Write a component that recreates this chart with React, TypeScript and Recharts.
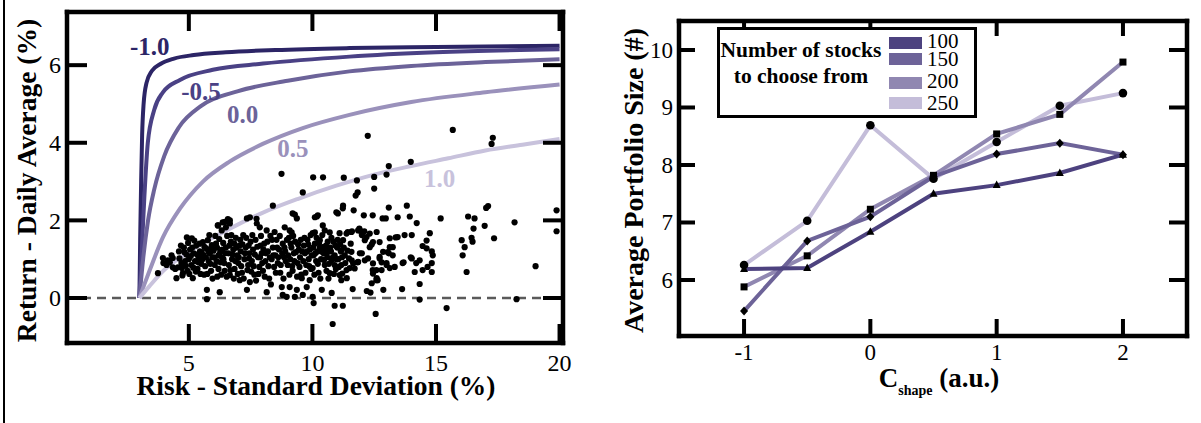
import React from 'react';
import { ComposedChart, Line, Scatter, XAxis, YAxis, ReferenceLine, ReferenceDot } from 'recharts';

const FONT = '"Liberation Serif", "Times New Roman", Times, serif';

type P = [number, number];

// ---- left panel: risk vs return ----
const riskTicks = [5, 10, 15, 20];
const returnTicks = [0, 2, 4, 6];

const frontierM10: P[] = [[3, 0], [3.03, 1.5], [3.07, 3], [3.11, 4.2], [3.17, 5.0], [3.29, 5.55], [3.5, 5.85], [3.85, 6.03], [4.4, 6.17], [5.2, 6.26], [6.5, 6.33], [8.5, 6.39], [11.5, 6.44], [15, 6.47], [20, 6.5]];
const frontierM05: P[] = [[3, 0], [3.1, 1.3], [3.2, 2.6], [3.34, 4.0], [3.6, 4.85], [3.95, 5.3], [4.64, 5.62], [5.97, 5.88], [8, 6.04], [11.5, 6.22], [15, 6.33], [20, 6.41]];
const frontier00: P[] = [[3, 0], [3.15, 1.0], [3.35, 2.0], [3.6, 2.8], [4.0, 3.65], [4.6, 4.4], [5.5, 4.95], [7, 5.33], [9, 5.6], [11.5, 5.84], [14, 5.98], [17, 6.08], [20, 6.15]];
const frontier05: P[] = [[3, 0], [3.2, 0.35], [3.42, 0.72], [3.95, 1.56], [4.64, 2.3], [5.57, 3.0], [6.66, 3.52], [7.99, 3.97], [9.61, 4.38], [11.5, 4.72], [14, 5.05], [17, 5.3], [20, 5.5]];
const frontier10: P[] = [[3, 0], [3.4, 0.3], [4, 0.72], [4.8, 1.1], [5.6, 1.42], [6.7, 1.8], [8, 2.2], [9.4, 2.55], [11, 2.9], [12.5, 3.18], [14, 3.4], [15.5, 3.6], [17, 3.8], [18.5, 3.95], [20, 4.1]];

const frontierNames = ['-1.0', '-0.5', '0.0', '0.5', '1.0'];
const frontierColors = ['#2c2566', '#4a4185', '#6c6399', '#9a91bb', '#c8c2dc'];
const frontierData = [frontierM10, frontierM05, frontier00, frontier05, frontier10];
const frontierLabelAt: P[] = [[3.42, 6.49], [5.49, 5.33], [7.18, 4.74], [9.21, 3.85], [15.15, 3.1]];

const stocks: P[] = [
  [3.75, 0.64], [3.95, 1.03], [3.97, 0.9], [4.1, 0.85], [4.15, 0.97], [4.23, 0.92], [4.3, 1.1], [4.35, 1.03], [4.35, 0.79], [4.45, 0.75], [4.5, 0.51], [4.56, 0.79], [4.6, 1.2], [4.7, 0.9], [4.72, 0.77], [4.76, 0.64],
  [4.8, 1.3], [4.85, 0.95], [4.9, 1.12], [4.92, 1.56], [4.95, 0.7], [5.0, 1.0], [5.05, 1.25], [5.1, 0.85], [5.12, 1.54], [5.16, 0.51], [5.2, 1.15], [5.25, 0.95], [5.3, 1.35], [5.35, 0.75], [5.4, 1.05], [5.45, 1.2], [5.5, 0.88],
  [5.57, 1.44], [5.6, 1.1], [5.62, 0.6], [5.7, 1.28], [5.73, 0.21], [5.73, -0.03], [5.77, 1.49], [5.8, 0.95], [5.85, 1.15], [5.9, 0.7], [5.93, 1.36], [5.95, 1.05], [6.0, 1.22], [6.05, 0.85], [6.1, 1.4], [6.15, 0.55], [6.17, 1.87], [6.2, 1.1], [6.25, 0.15], [6.28, 0.92], [6.33, 1.74], [6.35, 1.25], [6.37, 1.95], [6.4, 1.0], [6.45, 0.7], [6.5, 1.82], [6.5, 1.3], [6.19, 1.87], [6.46, 1.96], [6.66, 2.0],
  [6.58, 2.03], [6.6, 1.15], [6.62, 0.85], [6.66, 1.92], [6.66, 0.59], [6.7, 1.45], [6.75, 1.0], [6.8, 1.25], [6.85, 0.75], [6.9, 1.55], [6.95, 1.1], [7.0, 0.9], [7.06, 0.46], [7.05, 1.35], [7.1, 1.2], [7.15, 0.65], [7.2, 1.62], [7.25, 1.0], [7.3, 1.3], [7.35, 2.05], [7.35, 0.21], [7.4, 0.85], [7.45, 1.15], [7.47, 2.08], [7.47, 0.41], [7.5, 1.45], [7.74, 2.04],
  [7.55, 0.95], [7.6, 1.25], [7.65, 0.6], [7.7, 1.5], [7.75, 1.92], [7.8, 1.05], [7.85, 0.8], [7.87, 1.82], [7.9, 1.35], [7.95, 1.15], [8.0, 0.7], [8.05, 1.4], [8.1, 0.95], [8.15, 1.74], [8.15, 0.15], [8.2, 1.2], [8.25, 0.5], [8.3, 1.6], [8.35, 1.0], [8.4, 2.38], [8.4, 1.3], [8.45, 0.8], [8.5, 1.1],
  [8.55, 1.5], [8.6, 0.9], [8.65, 1.25], [8.7, 0.65], [8.75, 3.2], [8.76, 0.28], [8.8, 1.4], [8.8, 0.08], [8.85, 1.05], [8.88, 1.82], [8.9, 1.2], [8.96, 0.03], [9.0, 0.85], [9.05, 1.55], [9.08, 1.74], [9.08, 0.28], [9.1, 1.0], [9.15, 1.3], [9.16, 1.69], [9.2, 0.7], [9.2, 2.18], [9.25, 1.15], [9.29, 2.15], [9.29, 0.03], [9.3, 1.45], [9.37, 2.05], [9.37, 0.21], [9.4, 0.9], [9.45, 1.25],
  [9.5, 1.05], [9.55, 0.6], [9.57, 0.51], [9.61, 2.72], [9.61, 0.08], [9.65, 1.35], [9.7, 1.15], [9.75, 0.85], [9.77, 0.28], [9.8, 1.5], [9.85, 1.0], [9.89, 0.46], [9.9, 1.25], [9.95, 0.75], [10.01, 1.67], [10.01, 0.77], [10.01, 0.03], [10.03, 3.11], [10.05, -0.13], [10.05, 1.1], [10.1, 1.69], [10.1, 1.4], [10.1, 2.08], [10.15, 0.95], [10.18, 2.1], [10.2, 1.2], [10.25, 0.65], [10.3, 1.3], [10.3, 1.49], [10.35, 1.0], [10.38, 0.21], [10.42, 1.87], [10.42, 1.31], [10.43, 3.11], [10.45, 1.15], [10.5, 1.74],
  [10.5, 0.85], [10.55, 1.35], [10.58, 1.15], [10.6, 1.05], [10.65, 0.5], [10.7, 1.69], [10.7, 0.64], [10.75, 1.2], [10.78, 0.13], [10.78, 0.97], [10.82, -0.67], [10.85, 1.45], [10.9, -0.2], [10.9, 1.1], [10.9, 0.85], [10.95, 0.75], [10.97, 2.21], [11.0, 1.3], [11.05, 1.0], [11.1, 1.67], [11.1, 0.59], [11.15, 1.2],
  [11.24, 1.49], [11.38, 1.66], [11.58, 1.7], [11.85, 1.74], [12.05, 1.7], [12.19, 1.57], [12.45, 1.44], [11.17, 1.23], [11.31, 1.1], [11.58, 1.19], [11.92, 1.15], [12.25, 1.02], [11.17, 0.85], [11.38, 0.72], [11.65, 0.89], [11.85, 0.93], [12.12, 0.97], [12.45, 0.89], [12.59, 0.72], [12.72, 1.06], [12.86, 1.19], [11.21, 0.63], [11.71, 0.76], [12.45, 0.63], [12.59, 0.46], [11.17, 0.46], [11.23, -0.2], [11.24, 2.38], [11.27, 3.1], [11.43, 1.7], [11.51, 0.77], [11.39, 0.51], [11.59, 0.97], [11.83, 0.92], [12.0, 1.15], [11.92, 1.74], [12.12, 1.49], [12.32, 1.31], [12.32, 1.66], [12.6, 1.7], [12.72, 1.44], [12.72, 1.02], [12.8, 0.72], [12.6, 0.51], [12.4, 0.38], [12.44, 0.72],
  [13.13, 1.54], [13.45, 1.57], [13.73, 1.62], [14.02, 1.62], [13.25, 1.31], [13.05, 1.18], [13.0, 0.9], [13.33, 0.8], [13.69, 0.92], [14.02, 1.02], [14.34, 0.97], [14.46, 0.72], [14.83, 0.9], [14.62, 1.28], [14.14, 0.67],
  [12.24, 4.18], [15.68, 4.33], [17.3, 4.13], [17.25, 3.97], [11.8, 3.03], [12.5, 3.12], [13.0, 3.18], [13.09, 3.4], [13.98, 3.51], [11.75, 2.64], [11.83, 2.72], [12.5, 2.82], [11.23, 2.31], [11.67, 2.26], [12.08, 2.13], [12.44, 2.13], [13.09, 2.33], [13.82, 2.38], [12.97, 2.05], [13.45, 2.08], [13.94, 2.1], [14.22, 1.93], [15.19, 2.05], [16.3, 2.1], [16.56, 2.05], [17.03, 2.32], [17.11, 2.37], [16.52, 1.79], [16.97, 1.86], [18.18, 1.95], [19.88, 2.26], [19.88, 1.72],
  [17.35, 1.54], [16.04, 1.49], [16.44, 1.55], [16.48, 1.45], [16.16, 1.31], [16.08, 1.1], [16.24, 0.67], [19.03, 0.82], [18.26, -0.03], [15.43, -0.26], [14.34, -0.04], [14.34, 0.36], [14.83, 0.67], [14.66, 0.8], [14.87, 1.1], [14.83, 1.2], [14.75, 1.67], [14.62, 1.48], [14.46, 1.34], [14.2, 0.9], [13.98, 1.05], [13.65, 0.9], [13.63, 0.23], [12.87, 0.21], [12.56, -0.41], [12.35, 0.14], [12.2, 0.18], [11.63, 0.23], [12.64, 0.46], [13.13, 0.77], [13.0, 0.85], [12.8, 0.92], [13.09, 1.15], [13.25, 1.1], [13.13, 1.31], [13.37, 1.56], [12.4, 1.38], [12.84, 2.05], [11.9, 1.79], [12.1, 1.72], [12.0, 1.62], [11.6, 1.72], [10.22, 2.13], [11.03, 2.18],
  // the dense core of the cloud
  [4.62, 1.02], [4.68, 1.35], [4.74, 0.58], [4.82, 1.18], [4.88, 0.83], [4.97, 1.42], [5.02, 0.62], [5.08, 1.08], [5.14, 1.3], [5.18, 0.78], [5.22, 1.48], [5.28, 0.68], [5.33, 1.12], [5.38, 0.92], [5.43, 1.4], [5.47, 0.62], [5.52, 1.18], [5.55, 1.0],
  [5.63, 1.32], [5.66, 0.82], [5.69, 1.05], [5.75, 0.62], [5.79, 1.2], [5.83, 1.62], [5.87, 0.88], [5.91, 1.27], [5.96, 0.5], [6.02, 1.05], [6.07, 1.6], [6.12, 0.95], [6.14, 1.3], [6.2, 0.75], [6.23, 1.52], [6.27, 1.18], [6.31, 0.6], [6.34, 1.05], [6.39, 1.42], [6.43, 0.9], [6.48, 1.15], [6.53, 0.55], [6.55, 1.6],
  [6.64, 1.35], [6.68, 0.72], [6.72, 1.62], [6.77, 1.12], [6.82, 0.5], [6.84, 1.4], [6.88, 0.95], [6.93, 1.3], [6.98, 0.62], [7.02, 1.05], [7.08, 1.5], [7.12, 0.82], [7.17, 1.38], [7.22, 0.5], [7.27, 1.15], [7.32, 1.55], [7.37, 0.72], [7.42, 1.35], [7.44, 1.02], [7.52, 0.68], [7.57, 1.62],
  [7.62, 0.82], [7.67, 1.12], [7.72, 0.45], [7.77, 1.32], [7.82, 0.62], [7.88, 1.05], [7.92, 1.6], [7.97, 0.9], [8.02, 1.25], [8.07, 0.55], [8.12, 1.15], [8.18, 1.45], [8.22, 0.82], [8.28, 1.05], [8.32, 0.35], [8.37, 1.5], [8.42, 1.1], [8.47, 1.7], [8.52, 0.65], [8.57, 1.3],
  [8.62, 1.05], [8.68, 1.6], [8.72, 0.85], [8.78, 1.15], [8.83, 0.5], [8.87, 1.3], [8.92, 0.95], [8.97, 1.5], [9.02, 1.1], [9.07, 0.6], [9.12, 1.4], [9.18, 0.82], [9.22, 1.6], [9.27, 0.95], [9.33, 1.18], [9.38, 0.55], [9.42, 1.38], [9.48, 0.8], [9.53, 1.5], [9.58, 1.2],
  [9.63, 0.95], [9.68, 1.55], [9.72, 0.65], [9.78, 1.2], [9.83, 1.38], [9.87, 0.82], [9.93, 1.62], [9.97, 1.1], [10.03, 1.3], [10.08, 0.6], [10.12, 1.15], [10.17, 1.55], [10.22, 0.88], [10.27, 1.42], [10.32, 0.5], [10.37, 1.2], [10.4, 1.62], [10.47, 0.98], [10.52, 1.25], [10.57, 0.7],
  [10.62, 1.45], [10.67, 0.88], [10.72, 1.3], [10.77, 1.55], [10.83, 1.05], [10.87, 0.62], [10.93, 1.35], [10.97, 1.0], [11.02, 1.5], [11.07, 0.8], [11.12, 1.38], [11.2, 1.05], [11.27, 1.3], [11.33, 0.9], [11.42, 1.22], [11.48, 1.02], [11.55, 1.4],
];

// ---- right panel: portfolio size vs C_shape ----
const cShape = [-1, -0.5, 0, 0.5, 1, 1.5, 2];
const cTicks = [-1, 0, 1, 2];
const sizeTicks = [6, 7, 8, 9, 10];
const size100 = [6.19, 6.21, 6.84, 7.5, 7.65, 7.86, 8.18];
const size150 = [5.46, 6.68, 7.1, 7.8, 8.19, 8.38, 8.18];
const size200 = [5.88, 6.42, 7.23, 7.82, 8.54, 8.88, 9.79];
const size250 = [6.26, 7.03, 8.69, 7.76, 8.4, 9.03, 9.25];

const stockCounts = ['100', '150', '200', '250'];
const stockColors = ['#4d427f', '#6d6398', '#9087b1', '#c4bdd9'];
const stockMarkers = ['triangle', 'diamond', 'square', 'circle'];

const portfolioRows = cShape.map((c, i) => ({ c, s100: size100[i], s150: size150[i], s200: size200[i], s250: size250[i] }));

const FRAME = { stroke: '#000', strokeWidth: 4.5, strokeLinecap: 'square' as const };
const INK = { stroke: '#000', strokeWidth: 4 };

// inward tick + label on the bottom / left axes
function EdgeTick(props: any) {
  const { x, y, payload, side, len, fontSize, gap } = props;
  const v = payload ? payload.value : '';
  if (side === 'bottom') {
    return (
      <g>
        <line x1={x} y1={y} x2={x} y2={y - len} {...INK} />
        <text x={x} y={y + gap} textAnchor="middle" fontSize={fontSize} fontFamily={FONT} fill="#000">{v}</text>
      </g>
    );
  }
  return (
    <g>
      <line x1={x} y1={y} x2={x + len} y2={y} {...INK} />
      <text x={x - gap} y={y + fontSize * 0.34} textAnchor="end" fontSize={fontSize} fontFamily={FONT} fill="#000">{v}</text>
    </g>
  );
}

// mirrored inward ticks on the top and right edges, drawn over the chart
// with the same linear mapping as the chart's plot box
interface Box { left: number; top: number; width: number; height: number }
function MirrorTicks({ box, xDomain, yDomain, xTicks, yTicks, topLen, rightLen, w, h }: {
  box: Box; xDomain: [number, number]; yDomain: [number, number]; xTicks: number[]; yTicks: number[]; topLen: number; rightLen: number; w: number; h: number;
}) {
  const sx = (v: number) => box.left + ((v - xDomain[0]) / (xDomain[1] - xDomain[0])) * box.width;
  const sy = (v: number) => box.top + ((yDomain[1] - v) / (yDomain[1] - yDomain[0])) * box.height;
  const right = box.left + box.width;
  return (
    <svg width={w} height={h} style={{ position: 'absolute', left: 0, top: 0, pointerEvents: 'none' }}>
      {xTicks.map((t) => <line key={'t' + t} x1={sx(t)} y1={box.top} x2={sx(t)} y2={box.top + topLen} {...INK} />)}
      {yTicks.map((t) => <line key={'r' + t} x1={right} y1={sy(t)} x2={right - rightLen} y2={sy(t)} {...INK} />)}
    </svg>
  );
}

const dotShape = (p: any) => <circle cx={p.cx} cy={p.cy} r={3.1} fill="#000" />;

function marker(kind: string) {
  return (p: any) => {
    const { cx, cy, index } = p;
    if (cx == null || cy == null) return <g key={index} />;
    if (kind === 'triangle') return <polygon key={index} points={`${cx},${cy - 4.5} ${cx - 4},${cy + 3} ${cx + 4},${cy + 3}`} fill="#000" />;
    if (kind === 'diamond') return <polygon key={index} points={`${cx},${cy - 4.5} ${cx + 4},${cy} ${cx},${cy + 4.5} ${cx - 4},${cy}`} fill="#000" />;
    if (kind === 'square') return <rect key={index} x={cx - 3.5} y={cy - 3.5} width={7} height={7} fill="#000" />;
    return <circle key={index} cx={cx} cy={cy} r={4.3} fill="#000" />;
  };
}

const riskX: [number, number] = [0.07, 20.14];
const riskY: [number, number] = [-1.16, 7.37];
const riskBox: Box = { left: 67, top: 12, width: 496, height: 331 };

function RiskReturnChart() {
  return (
    <div style={{ position: 'relative', width: 600, height: 423 }}>
      <ComposedChart width={600} height={423} margin={{ top: riskBox.top, right: 600 - riskBox.left - riskBox.width, bottom: 0, left: 0 }}>
        <XAxis xAxisId="b" dataKey="x" type="number" domain={riskX} allowDataOverflow ticks={riskTicks} interval={0}
          height={423 - riskBox.top - riskBox.height} tickSize={0} tickMargin={0} tickLine={false} axisLine={FRAME}
          tick={<EdgeTick side="bottom" len={19} fontSize={24} gap={28} />}
          label={{ content: (p: any) => (
            <text x={p.viewBox.x + p.viewBox.width / 2 + 1} y={p.viewBox.y + 52} textAnchor="middle" fontSize={27.5} fontWeight={700} fontFamily={FONT} fill="#000">Risk - Standard Deviation (%)</text>
          ) }} />
        <YAxis yAxisId="l" dataKey="y" type="number" domain={riskY} allowDataOverflow ticks={returnTicks} interval={0}
          width={riskBox.left} tickSize={0} tickMargin={0} tickLine={false} axisLine={FRAME}
          tick={<EdgeTick side="left" len={20} fontSize={24} gap={6} />}
          label={{ content: (p: any) => (
            <text transform={`translate(36, ${p.viewBox.y + p.viewBox.height / 2 + 3}) rotate(-90)`} textAnchor="middle" fontSize={27.5} fontWeight={700} fontFamily={FONT} fill="#000">Return - Daily Average (%)</text>
          ) }} />

        <ReferenceLine xAxisId="b" yAxisId="l" y={0} stroke="#5a5a5a" strokeWidth={2.5} strokeDasharray="9 6" />

        {frontierData.map((pts, i) => (
          <Line key={frontierNames[i]} xAxisId="b" yAxisId="l" data={pts.map(([x, y]) => ({ x, y }))} dataKey="y"
            type="monotone" stroke={frontierColors[i]} strokeWidth={4} dot={false} activeDot={false} isAnimationActive={false} />
        ))}

        <Scatter xAxisId="b" yAxisId="l" data={stocks.map(([x, y]) => ({ x, y }))} dataKey="y" shape={dotShape} isAnimationActive={false} />

        {frontierLabelAt.map(([x, y], i) => (
          <ReferenceDot key={'lbl' + i} xAxisId="b" yAxisId="l" x={x} y={y} r={0} fill="none" stroke="none"
            label={{ value: frontierNames[i], position: 'center', fill: frontierColors[i], fontSize: 25, fontWeight: 700, fontFamily: FONT }} />
        ))}

        <ReferenceLine xAxisId="b" yAxisId="l" y={riskY[1]} ifOverflow="visible" {...FRAME} />
        <ReferenceLine xAxisId="b" yAxisId="l" x={riskX[1]} ifOverflow="visible" {...FRAME} />
      </ComposedChart>
      <MirrorTicks box={riskBox} xDomain={riskX} yDomain={riskY} xTicks={riskTicks} yTicks={returnTicks} topLen={19} rightLen={20} w={600} h={423} />
    </div>
  );
}

const sizeX: [number, number] = [-1.515, 2.507];
const sizeY: [number, number] = [5.026, 10.504];
const sizeBox: Box = { left: 79, top: 21, width: 508, height: 315 };

function PortfolioChart() {
  const keys = ['s100', 's150', 's200', 's250'];
  const order = [3, 2, 1, 0];
  return (
    <div style={{ position: 'relative', width: 601, height: 423 }}>
      <ComposedChart width={601} height={423} data={portfolioRows} margin={{ top: sizeBox.top, right: 601 - sizeBox.left - sizeBox.width, bottom: 0, left: 0 }}>
        <XAxis xAxisId="b" dataKey="c" type="number" domain={sizeX} allowDataOverflow ticks={cTicks} interval={0}
          height={423 - sizeBox.top - sizeBox.height} tickSize={0} tickMargin={0} tickLine={false} axisLine={FRAME}
          tick={<EdgeTick side="bottom" len={17} fontSize={23} gap={24} />}
          label={{ content: (p: any) => (
            <text x={p.viewBox.x + p.viewBox.width / 2 + 6} y={p.viewBox.y + 51} textAnchor="middle" fontSize={27} fontWeight={700} fontFamily={FONT} fill="#000">
              <tspan>C</tspan><tspan fontSize={14} dy={8}>shape</tspan><tspan dy={-8}> (a.u.)</tspan>
            </text>
          ) }} />
        <YAxis yAxisId="l" type="number" domain={sizeY} allowDataOverflow ticks={sizeTicks} interval={0}
          width={sizeBox.left} tickSize={0} tickMargin={0} tickLine={false} axisLine={FRAME}
          tick={<EdgeTick side="left" len={16} fontSize={23} gap={6} />}
          label={{ content: (p: any) => (
            <text transform={`translate(43, ${p.viewBox.y + p.viewBox.height / 2 + 2}) rotate(-90)`} textAnchor="middle" fontSize={28} fontWeight={700} fontFamily={FONT} fill="#000">Average Portfolio Size (#)</text>
          ) }} />

        {order.map((i) => (
          <Line key={keys[i]} xAxisId="b" yAxisId="l" dataKey={keys[i]} type="linear" stroke={stockColors[i]} strokeWidth={4}
            dot={marker(stockMarkers[i])} activeDot={false} isAnimationActive={false} />
        ))}

        <ReferenceLine xAxisId="b" yAxisId="l" y={sizeY[1]} ifOverflow="visible" {...FRAME} />
        <ReferenceLine xAxisId="b" yAxisId="l" x={sizeX[1]} ifOverflow="visible" {...FRAME} />
      </ComposedChart>
      <MirrorTicks box={sizeBox} xDomain={sizeX} yDomain={sizeY} xTicks={cTicks} yTicks={sizeTicks} topLen={15} rightLen={18} w={601} h={423} />
    </div>
  );
}

function StockLegend() {
  const swatchTop = [7, 23, 47, 67];
  const labelTop = [2, 20, 42, 64];
  return (
    <div style={{ position: 'absolute', left: 717, top: 27, width: 260, height: 91, boxSizing: 'border-box', border: '3px solid #000', background: '#fff', fontFamily: FONT }}>
      <div style={{ position: 'absolute', left: 0, top: 7, width: 162, textAlign: 'center', fontWeight: 700, fontSize: 21.5, lineHeight: '26px', whiteSpace: 'nowrap' }}>
        Number of stocks<br />to choose from
      </div>
      {stockCounts.map((n, i) => (
        <React.Fragment key={n}>
          <div style={{ position: 'absolute', left: 169, top: swatchTop[i], width: 33, height: 12, background: stockColors[i] }} />
          <div style={{ position: 'absolute', left: 207, top: labelTop[i], fontSize: 21, lineHeight: '18px' }}>{n}</div>
        </React.Fragment>
      ))}
    </div>
  );
}

export default function App() {
  return (
    <div style={{ position: 'fixed', left: 0, top: 0, width: 1201, height: 423, background: '#fff', overflow: 'hidden' }}>
      <div style={{ position: 'absolute', left: 3, top: 0, width: 2, height: 423, background: '#000' }} />
      <div style={{ position: 'absolute', left: 0, top: 0 }}>
        <RiskReturnChart />
      </div>
      <div style={{ position: 'absolute', left: 600, top: 0 }}>
        <PortfolioChart />
      </div>
      <StockLegend />
    </div>
  );
}
